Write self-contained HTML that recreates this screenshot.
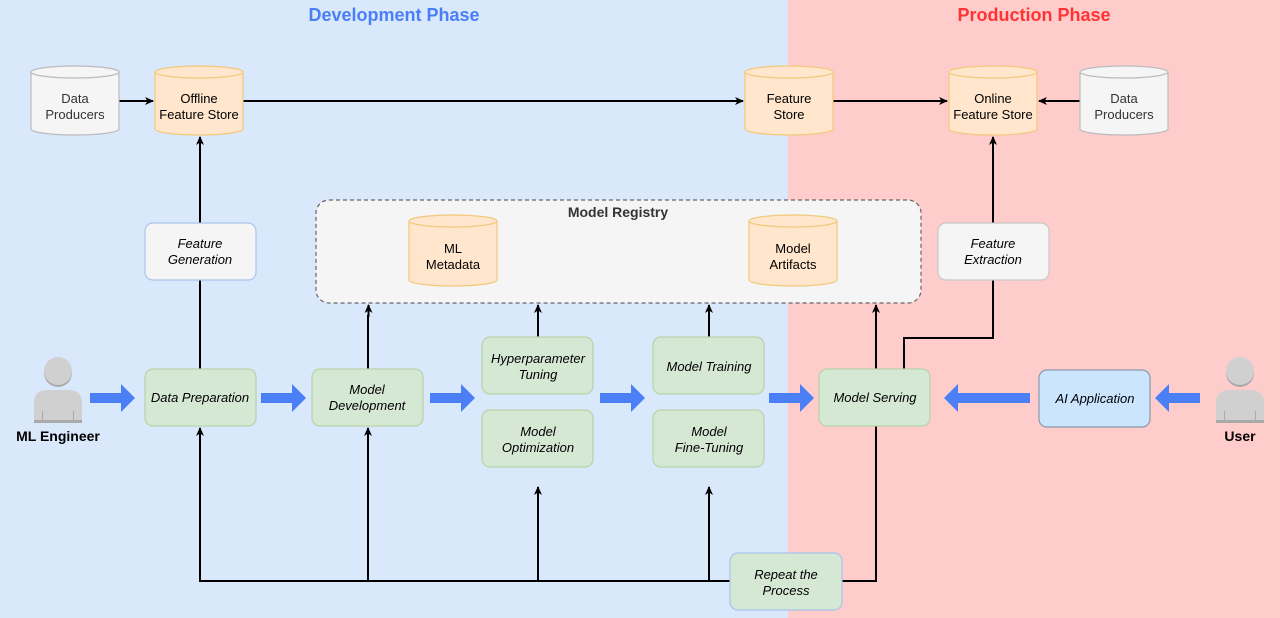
<!DOCTYPE html>
<html><head><meta charset="utf-8"><style>
html,body{margin:0;padding:0;width:1280px;height:618px;overflow:hidden}
svg{display:block;font-family:"Liberation Sans",Arial,sans-serif}
</style></head><body>
<svg width="1280" height="618" viewBox="0 0 1280 618" xmlns="http://www.w3.org/2000/svg">
<defs>
<marker id="a" markerWidth="10" markerHeight="10" refX="8" refY="5" orient="auto" markerUnits="userSpaceOnUse"><path d="M0,1 L9,5 L0,9 L2.5,5 z" fill="#000"/></marker>
<g id="person">
<circle cx="0" cy="0" r="14" fill="#aaa"/><circle cx="0" cy="-2" r="14" fill="#d0d0d0"/>
<path d="M-24,50 V30 Q-24,17 -10,17 H10 Q24,17 24,30 V50 Z" fill="#d0d0d0"/>
<rect x="-24" y="47" width="48" height="3" fill="#aaa"/>
<rect x="-16" y="38" width="1" height="10" fill="#aaa"/><rect x="15" y="38" width="1" height="10" fill="#aaa"/>
</g>
</defs>
<rect x="0" y="0" width="788" height="618" fill="#dae8fc"/>
<rect x="788" y="0" width="492" height="618" fill="#ffcccc"/>
<text x="394" y="21" font-size="18" font-weight="bold" fill="#4a7ff5" text-anchor="middle">Development Phase</text>
<text x="1034" y="21" font-size="18" font-weight="bold" fill="#ff3333" text-anchor="middle">Production Phase</text>

<!-- connectors -->
<g stroke="#000" stroke-width="2" fill="none">
<path d="M119,101 H153" marker-end="url(#a)"/>
<path d="M243,101 H743" marker-end="url(#a)"/>
<path d="M833,101 H947" marker-end="url(#a)"/>
<path d="M1080,101 H1039" marker-end="url(#a)"/>
<path d="M200,223 V137" marker-end="url(#a)"/>
<path d="M200,369 V280"/>
<path d="M993,223 V137" marker-end="url(#a)"/>
<path d="M904,369 V338 H993 V280"/>
<path d="M368,369 V316 H368.5 V305" marker-end="url(#a)"/>
<path d="M538,337 V305" marker-end="url(#a)"/>
<path d="M709,337 V305" marker-end="url(#a)"/>
<path d="M876,369 V305" marker-end="url(#a)"/>
<path d="M730,581 H200 V428" marker-end="url(#a)"/>
<path d="M368,581 V428" marker-end="url(#a)"/>
<path d="M538,581 V487" marker-end="url(#a)"/>
<path d="M709,581 V487" marker-end="url(#a)"/>
<path d="M842,581 H876 V426"/>
</g>

<!-- cylinders -->
<g stroke-width="1.2" font-size="13" text-anchor="middle">
<g fill="#f5f5f5" stroke="#bbb">
<path d="M31,72 a44,6 0 0 1 88,0 v57 a44,6 0 0 1 -88,0 z"/><path d="M31,72 a44,6 0 0 0 88,0" fill="none"/>
<path d="M1080,72 a44,6 0 0 1 88,0 v57 a44,6 0 0 1 -88,0 z"/><path d="M1080,72 a44,6 0 0 0 88,0" fill="none"/>
</g>
<g fill="#ffe6cc" stroke="#f2c97a">
<path d="M155,72 a44,6 0 0 1 88,0 v57 a44,6 0 0 1 -88,0 z"/><path d="M155,72 a44,6 0 0 0 88,0" fill="none"/>
<path d="M745,72 a44,6 0 0 1 88,0 v57 a44,6 0 0 1 -88,0 z"/><path d="M745,72 a44,6 0 0 0 88,0" fill="none"/>
<path d="M949,72 a44,6 0 0 1 88,0 v57 a44,6 0 0 1 -88,0 z"/><path d="M949,72 a44,6 0 0 0 88,0" fill="none"/>
</g>
<g stroke="none">
<text x="75" y="103" fill="#333">Data</text><text x="75" y="119" fill="#333">Producers</text>
<text x="1124" y="103" fill="#333">Data</text><text x="1124" y="119" fill="#333">Producers</text>
<text x="199" y="103">Offline</text><text x="199" y="119">Feature Store</text>
<text x="789" y="103">Feature</text><text x="789" y="119">Store</text>
<text x="993" y="103">Online</text><text x="993" y="119">Feature Store</text>
</g>
</g>

<!-- registry -->
<rect x="316" y="200" width="605" height="103" rx="13" fill="#f5f5f5" stroke="#666" stroke-dasharray="4,3" stroke-width="1.2"/>
<text x="618" y="217" font-size="14" font-weight="bold" fill="#333" text-anchor="middle">Model Registry</text>
<g fill="#ffe6cc" stroke="#f2c97a" stroke-width="1.2">
<path d="M409,221 a44,6 0 0 1 88,0 v59 a44,6 0 0 1 -88,0 z"/><path d="M409,221 a44,6 0 0 0 88,0" fill="none"/>
<path d="M749,221 a44,6 0 0 1 88,0 v59 a44,6 0 0 1 -88,0 z"/><path d="M749,221 a44,6 0 0 0 88,0" fill="none"/>
</g>
<g font-size="13" text-anchor="middle">
<text x="453" y="253">ML</text><text x="453" y="269">Metadata</text>
<text x="793" y="253">Model</text><text x="793" y="269">Artifacts</text>
</g>

<!-- boxes -->
<g stroke-width="1.2">
<rect x="145" y="223" width="111" height="57" rx="8" fill="#f5f5f5" stroke="#a9c4eb"/>
<rect x="938" y="223" width="111" height="57" rx="8" fill="#f5f5f5" stroke="#c8c8c8"/>
<g fill="#d5e8d4" stroke="#b6d3a8">
<rect x="145" y="369" width="111" height="57" rx="8"/>
<rect x="312" y="369" width="111" height="57" rx="8"/>
<rect x="482" y="337" width="111" height="57" rx="8"/>
<rect x="482" y="410" width="111" height="57" rx="8"/>
<rect x="653" y="337" width="111" height="57" rx="8"/>
<rect x="653" y="410" width="111" height="57" rx="8"/>
<rect x="819" y="369" width="111" height="57" rx="8"/>
<rect x="730" y="553" width="112" height="57" rx="8" stroke="#a9c4eb"/>
</g>
<rect x="1039" y="370" width="111" height="57" rx="8" fill="#cce5ff" stroke="#8899aa"/>
</g>
<g font-size="13" font-style="italic" text-anchor="middle">
<text x="200" y="248">Feature</text><text x="200" y="264">Generation</text>
<text x="993" y="248">Feature</text><text x="993" y="264">Extraction</text>
<text x="200" y="402">Data Preparation</text>
<text x="367" y="394">Model</text><text x="367" y="410">Development</text>
<text x="538" y="363">Hyperparameter</text><text x="538" y="379">Tuning</text>
<text x="538" y="436">Model</text><text x="538" y="452">Optimization</text>
<text x="709" y="371">Model Training</text>
<text x="709" y="436">Model</text><text x="709" y="452">Fine-Tuning</text>
<text x="875" y="402">Model Serving</text>
<text x="1095" y="403">AI Application</text>
<text x="786" y="579">Repeat the</text><text x="786" y="595">Process</text>
</g>

<!-- blue arrows -->
<g fill="#4a7ff5">
<path d="M90,393 H121 V384 L135,398 L121,412 V403 H90 Z"/>
<path d="M261,393 H292 V384 L306,398 L292,412 V403 H261 Z"/>
<path d="M430,393 H461 V384 L475,398 L461,412 V403 H430 Z"/>
<path d="M600,393 H631 V384 L645,398 L631,412 V403 H600 Z"/>
<path d="M769,393 H800 V384 L814,398 L800,412 V403 H769 Z"/>
<path d="M1030,393 H958 V384 L944,398 L958,412 V403 H1030 Z"/>
<path d="M1200,393 H1169 V384 L1155,398 L1169,412 V403 H1200 Z"/>
</g>

<!-- persons -->
<use href="#person" x="58" y="373"/>
<use href="#person" x="1240" y="373"/>
<text x="58" y="441" font-size="14" font-weight="bold" text-anchor="middle">ML Engineer</text>
<text x="1240" y="441" font-size="14" font-weight="bold" text-anchor="middle">User</text>
</svg>
</body></html>
